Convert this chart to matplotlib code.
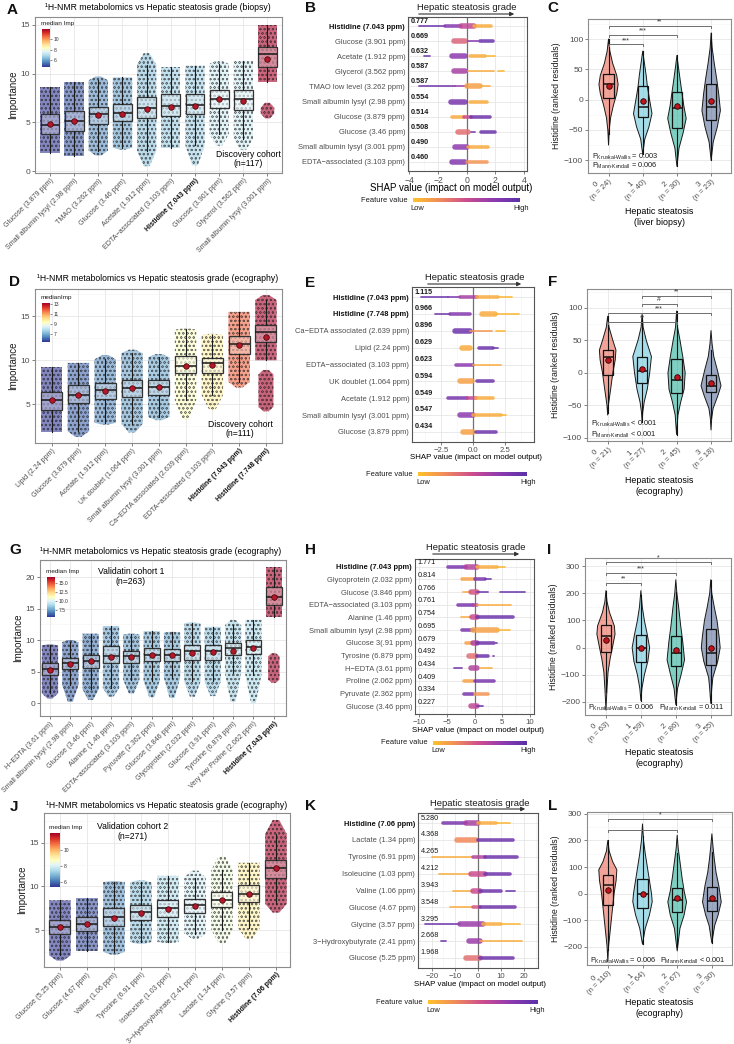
import numpy as np
import matplotlib
matplotlib.use("Agg")
import matplotlib.pyplot as plt
from matplotlib.colors import LinearSegmentedColormap, Normalize, to_rgb
from matplotlib.patches import Polygon, FancyArrowPatch
from matplotlib.transforms import blended_transform_factory
from matplotlib.ticker import MultipleLocator
import matplotlib.cm as cm

plt.rcParams["font.family"] = ["Liberation Sans", "DejaVu Sans"]
plt.rcParams["hatch.linewidth"] = 0.4

W, H = 734, 1044
GREY = "#4D4D4D"
GROUP_COLORS = ["#E64B35", "#4DBBD5", "#00A087", "#3C5488"]
fv_cmap = LinearSegmentedColormap.from_list(
    "fv", ["#FFC22B", "#F08A5D", "#CC4C8F", "#8E3BB1", "#5B31A8"])

# ---------------- A: importance, biopsy (discovery)
a_labels = ["Glucose (3.879 ppm)", "Small albumin lysyl (2.98 ppm)", "TMAO (3.262 ppm)",
            "Glucose (3.46 ppm)", "Acetate (1.912 ppm)", "EDTA\u2212associated (3.103 ppm)",
            "Histidine (7.043 ppm)", "Glucose (3.901 ppm)", "Glycerol (3.562 ppm)",
            "Small albumin lysyl (3.001 ppm)"]
a_q1 = [3.8, 4.1, 4.8, 5.1, 5.4, 5.6, 5.8, 6.5, 6.3, 10.7]
a_med = [4.7, 5.1, 5.8, 6.0, 6.5, 6.7, 6.8, 7.4, 7.4, 12.0]
a_q3 = [5.8, 6.2, 6.6, 6.9, 7.6, 7.9, 7.9, 8.3, 8.3, 12.7]
a_mean = [4.8, 5.1, 5.7, 5.9, 6.4, 6.6, 6.7, 7.4, 7.2, 11.5]
a_lo = [1.8, 1.5, 1.6, 2.2, 0.5, 2.4, 0.6, 2.6, 2.2, 9.1]
a_hi = [8.6, 9.1, 9.7, 9.6, 12.1, 10.7, 10.8, 11.3, 11.3, 15.0]
a_extra = {9: (5.4, 7.0)}

# ---------------- B: SHAP, biopsy
b_labels = ["Histidine (7.043 ppm)", "Glucose (3.901 ppm)", "Acetate (1.912 ppm)",
            "Glycerol (3.562 ppm)", "TMAO low level (3.262 ppm)", "Small albumin lysyl (2.98 ppm)",
            "Glucose (3.879 ppm)", "Glucose (3.46 ppm)", "Small albumin lysyl (3.001 ppm)",
            "EDTA\u2212associated (3.103 ppm)"]
b_imp = [0.777, 0.669, 0.632, 0.587, 0.587, 0.554, 0.514, 0.508, 0.490, 0.460]
# (shap from, shap to, feature value 0..1, density 1..3)
b_swarm = [
    [(-3.3, -1.5, 0.92, 1), (-1.5, -0.4, 0.8, 2), (-0.4, 0.5, 0.55, 3), (0.5, 1.7, 0.1, 2)],
    [(-0.9, -0.1, 0.4, 3), (0.1, 0.8, 0.8, 1), (0.9, 1.8, 0.92, 2)],
    [(-3.0, -2.6, 0.9, 1), (-1.0, -0.1, 0.75, 3), (0.2, 1.3, 0.1, 2), (1.3, 2.0, 0.05, 1)],
    [(-0.9, -0.1, 0.65, 3), (0.1, 1.9, 0.1, 1), (2.2, 2.6, 0.05, 1)],
    [(-3.3, -0.8, 0.9, 1), (-0.8, 0.0, 0.7, 1), (0.0, 0.9, 0.15, 3), (0.9, 1.6, 0.1, 1)],
    [(-1.1, -0.1, 0.85, 3), (0.2, 1.4, 0.1, 2)],
    [(-1.0, -0.2, 0.1, 2), (-0.2, 0.3, 0.5, 2), (0.3, 1.6, 0.9, 2)],
    [(-0.6, 0.1, 0.35, 3), (0.3, 0.6, 0.85, 1), (1.0, 2.0, 0.92, 2)],
    [(-0.8, 0.0, 0.75, 3), (0.1, 1.5, 0.1, 2)],
    [(-1.0, -0.1, 0.8, 3), (0.0, 1.4, 0.2, 2)],
]

# ---------------- C: histidine residuals, biopsy
c_n = [24, 40, 30, 23]
c_q1 = [3, -28, -46, -33]
c_med = [26, -12, -13, -12]
c_q3 = [43, 22, 13, 26]
c_mean = [22, -3, -11, -3]
c_prof_y = [[100, 80, 60, 40, 25, 10, -10, -30, -50, -75],
            [80, 60, 40, 20, 0, -23, -45, -65, -90],
            [73, 55, 30, 10, -10, -31, -55, -80, -110],
            [110, 85, 60, 35, 10, -18, -45, -70, -100]]
c_prof_w = [[0, .04, .12, .24, .28, .24, .14, .06, .02, 0],
            [0, .05, .10, .14, .20, .27, .18, .06, 0],
            [0, .04, .10, .15, .20, .27, .18, .06, 0],
            [0, .03, .09, .16, .22, .27, .18, .06, 0]]
c_sig = [(0, 1, 91, "***"), (0, 2, 106, "***"), (0, 3, 121, "**")]

# ---------------- D: importance, ecography (discovery)
d_labels = ["Lipid (2.24 ppm)", "Glucose (3.879 ppm)", "Acetate (1.912 ppm)",
            "UK doublet (1.064 ppm)", "Small albumin lysyl (3.001 ppm)",
            "Ca\u2212EDTA associated (2.639 ppm)", "EDTA\u2212associated (3.103 ppm)",
            "Histidine (7.043 ppm)", "Histidine (7.748 ppm)"]
d_q1 = [4.4, 5.1, 5.6, 5.8, 6.1, 8.5, 8.6, 10.7, 12.1]
d_med = [5.5, 6.1, 6.6, 6.9, 7.0, 9.3, 9.7, 11.8, 13.2]
d_q3 = [6.4, 7.2, 7.4, 7.8, 7.8, 10.5, 10.3, 12.8, 14.0]
d_mean = [5.5, 6.1, 6.5, 6.8, 7.0, 9.3, 9.5, 11.7, 12.6]
d_lo = [1.9, 1.3, 2.7, 1.8, 3.2, 3.3, 4.4, 6.9, 10.0]
d_hi = [9.2, 9.7, 10.6, 11.2, 10.7, 13.6, 13.0, 15.5, 17.4]
d_extra = {8: (4.2, 8.9)}

# ---------------- E: SHAP, ecography
e_labels = ["Histidine (7.043 ppm)", "Histidine (7.748 ppm)", "Ca\u2212EDTA associated (2.639 ppm)",
            "Lipid (2.24 ppm)", "EDTA\u2212associated (3.103 ppm)", "UK doublet (1.064 ppm)",
            "Acetate (1.912 ppm)", "Small albumin lysyl (3.001 ppm)", "Glucose (3.879 ppm)"]
e_imp = [1.115, 0.966, 0.896, 0.629, 0.623, 0.594, 0.549, 0.547, 0.434]
e_swarm = [
    [(-4.1, -2.0, 0.92, 1), (-2.0, -1.0, 0.85, 1), (-1.0, 0.3, 0.65, 2), (0.3, 2.0, 0.1, 2), (2.0, 3.1, 0.05, 1)],
    [(-3.0, -1.8, 0.9, 1), (-1.8, -0.2, 0.8, 2), (0.7, 1.7, 0.1, 3), (1.7, 3.6, 0.05, 1)],
    [(-1.4, -0.2, 0.9, 3), (-0.2, 1.5, 0.2, 1), (1.8, 2.5, 0.05, 1)],
    [(-0.9, -0.2, 0.1, 3), (0.5, 1.6, 0.9, 2), (1.6, 2.0, 0.9, 1)],
    [(-1.3, 0.0, 0.75, 2), (0.0, 2.2, 0.1, 1)],
    [(-1.0, -0.1, 0.15, 3), (0.3, 1.6, 0.9, 2)],
    [(-2.0, -0.5, 0.85, 2), (-0.5, 0.2, 0.55, 2), (0.2, 1.6, 0.1, 2)],
    [(-1.0, 0.0, 0.75, 3), (0.0, 2.2, 0.1, 2), (2.2, 2.6, 0.05, 1)],
    [(-0.8, 0.0, 0.15, 3), (0.2, 1.8, 0.9, 2)],
]

# ---------------- F: histidine residuals, ecography (discovery)
f_n = [21, 27, 45, 18]
f_q1 = [-4, -16, -31, -30]
f_med = [24, 2, -11, -20]
f_q3 = [35, 24, 21, -4]
f_mean = [19, 6, -6, -15]
f_prof_y = [[87, 70, 50, 35, 20, 0, -20, -35, -50, -65],
            [90, 70, 50, 25, 0, -25, -45, -60, -75],
            [95, 70, 50, 25, 0, -25, -45, -65, -95],
            [65, 45, 25, 5, -20, -35, -55, -70, -88]]
f_prof_w = [[0, .04, .15, .24, .22, .15, .10, .06, .02, 0],
            [0, .03, .12, .27, .22, .15, .06, .02, 0],
            [0, .03, .10, .18, .25, .22, .12, .04, 0],
            [0, .03, .08, .18, .29, .20, .06, .02, 0]]
f_sig = [(1, 3, 118, "**"), (1, 2, 106, "#"), (0, 3, 92, "***"), (0, 2, 78, "**")]

# ---------------- G: importance, validation cohort 1
g_labels = ["H\u2212EDTA (3.61 ppm)", "Small albumin lysyl (2.98 ppm)", "Glucose (3.46 ppm)",
            "Alanine (1.46 ppm)", "EDTA\u2212associated (3.103 ppm)", "Pyruvate (2.362 ppm)",
            "Glucose (3.846 ppm)", "Glycoprotein (2.032 ppm)", "Glucose (3.91 ppm)",
            "Tyrosine (6.879 ppm)", "Very low Proline (2.062 ppm)", "Histidine (7.043 ppm)"]
g_q1 = [4.4, 5.4, 5.5, 6.4, 6.4, 6.7, 6.7, 6.9, 6.9, 7.6, 7.8, 15.6]
g_med = [5.4, 6.3, 6.7, 7.5, 7.4, 7.6, 7.6, 8.2, 8.3, 8.7, 8.9, 16.8]
g_q3 = [6.3, 7.1, 7.7, 9.1, 8.2, 8.8, 8.5, 9.2, 9.2, 9.5, 10.0, 18.4]
g_mean = [5.3, 6.2, 6.6, 7.3, 7.3, 7.6, 7.6, 8.0, 8.1, 8.3, 8.7, 16.9]
g_lo = [0.7, 0.2, 0.5, 1.0, 1.5, 0.9, 0.8, 1.0, 1.1, 0.2, 0.0, 13.7]
g_hi = [9.3, 10.0, 11.0, 12.2, 11.0, 11.4, 11.3, 12.8, 12.1, 13.2, 13.2, 21.6]
g_extra = {11: (3.2, 7.9)}

# ---------------- H: SHAP, validation cohort 1
h_labels = ["Histidine (7.043 ppm)", "Glycoprotein (2.032 ppm)", "Glucose (3.846 ppm)",
            "EDTA\u2212associated (3.103 ppm)", "Alanine (1.46 ppm)", "Small albumin lysyl (2.98 ppm)",
            "Glucose 3(.91 ppm)", "Tyrosine (6.879 ppm)", "H\u2212EDTA (3.61 ppm)",
            "Proline (2.062 ppm)", "Pyruvate (2.362 ppm)", "Glucose (3.46 ppm)"]
h_imp = [1.771, 0.814, 0.766, 0.761, 0.754, 0.695, 0.679, 0.492, 0.434, 0.409, 0.334, 0.227]
h_swarm = [
    [(-4.8, -1.5, 0.85, 2), (-1.5, 0.5, 0.6, 3), (0.5, 4.0, 0.1, 2), (4.0, 5.4, 0.05, 1)],
    [(-2.3, 0.0, 0.15, 2), (0.0, 1.8, 0.85, 2), (1.8, 3.0, 0.9, 1)],
    [(-2.0, -0.5, 0.1, 1), (-0.6, 0.4, 0.45, 3), (0.5, 2.5, 0.9, 1), (4.5, 9.0, 0.92, 1)],
    [(-3.0, -0.3, 0.85, 2), (-0.3, 0.5, 0.6, 2), (0.5, 6.5, 0.1, 1)],
    [(-2.5, -0.5, 0.1, 1), (-0.5, 0.5, 0.5, 3), (0.5, 6.9, 0.9, 2)],
    [(-2.2, -0.3, 0.85, 2), (-0.3, 4.0, 0.15, 3), (4.0, 6.3, 0.05, 1)],
    [(-1.5, -0.3, 0.15, 2), (-0.3, 0.5, 0.6, 3), (0.5, 3.5, 0.9, 2), (3.9, 4.1, 0.92, 1)],
    [(-1.0, 0.3, 0.35, 3), (0.5, 2.5, 0.9, 2), (3.3, 3.5, 0.92, 1)],
    [(-3.6, -2.3, 0.9, 1), (-0.7, 0.5, 0.6, 3), (1.0, 3.2, 0.1, 1)],
    [(-1.8, -0.3, 0.15, 2), (0.0, 3.5, 0.85, 2)],
    [(-1.8, -0.3, 0.85, 2), (0.0, 2.5, 0.2, 2)],
    [(-0.6, 0.5, 0.55, 3), (0.5, 1.5, 0.9, 1)],
]

# ---------------- I: histidine residuals, validation cohort 1
i_n = [63, 59, 86, 55]
i_q1 = [-16, -53, -67, -63]
i_med = [42, -1, -20, -20]
i_q3 = [83, 46, 42, 70]
i_mean = [27, -3, -10, -3]
i_prof_y = [[210, 170, 130, 80, 50, 10, -40, -90, -150, -230],
            [210, 150, 100, 50, 0, -50, -100, -150, -195],
            [250, 200, 150, 80, 20, -45, -100, -150, -210],
            [250, 200, 150, 100, 40, 0, -50, -110, -150, -205]]
i_prof_w = [[0, .03, .10, .24, .26, .20, .12, .06, .03, 0],
            [0, .04, .10, .18, .25, .20, .10, .03, 0],
            [0, .03, .08, .14, .20, .25, .15, .05, 0],
            [0, .03, .10, .18, .24, .27, .20, .06, .03, 0]]
i_sig = [(0, 3, 314, "*"), (0, 2, 274, "***"), (0, 1, 237, "**")]

# ---------------- J: importance, validation cohort 2
j_labels = ["Glucose (5.25 ppm)", "Glucose (4.67 ppm)", "Valine (1.06 ppm)", "Tyrosine (6.91 ppm)",
            "Isoleucine (1.03 ppm)", "3\u2212Hydroxybutyrate (2.41 ppm)", "Lactate (1.34 ppm)",
            "Glycine (3.57 ppm)", "Histidine (7.06 ppm)"]
j_q1 = [4.5, 4.9, 5.5, 6.2, 6.5, 7.0, 7.6, 8.2, 11.0]
j_med = [5.4, 5.7, 6.5, 7.1, 7.5, 7.9, 8.4, 9.1, 12.1]
j_q3 = [6.1, 6.5, 7.5, 7.9, 8.4, 8.6, 9.3, 10.2, 13.0]
j_mean = [5.3, 5.7, 6.4, 7.0, 7.4, 7.8, 8.4, 9.1, 12.1]
j_lo = [1.5, 2.6, 2.2, 3.4, 3.5, 4.0, 3.5, 4.0, 7.0]
j_hi = [8.4, 8.7, 10.6, 10.7, 11.2, 11.8, 13.4, 12.7, 17.6]
j_extra = {}

# ---------------- K: SHAP, validation cohort 2
k_labels = ["Histidine (7.06 ppm)", "Lactate (1.34 ppm)", "Tyrosine (6.91 ppm)",
            "Isoleucine (1.03 ppm)", "Valine (1.06 ppm)", "Glucose (4.67 ppm)",
            "Glycine (3.57 ppm)", "3\u2212Hydroxybutyrate (2.41 ppm)", "Glucose (5.25 ppm)"]
k_imp = [5.280, 4.368, 4.265, 4.212, 3.943, 3.548, 3.295, 2.668, 1.968]
k_swarm = [
    [(-15, -5, 0.85, 2), (-5, 0, 0.65, 3), (0, 8, 0.1, 2), (8, 14, 0.05, 1)],
    [(-9, -1, 0.25, 3), (0, 15, 0.9, 2)],
    [(-20, -2, 0.1, 1), (-2, 3, 0.6, 2), (3, 17, 0.9, 2)],
    [(-17, -3, 0.1, 1), (-3, 3, 0.5, 3), (3, 14, 0.9, 2)],
    [(-11, -2, 0.1, 1), (-2, 1, 0.5, 3), (1, 10, 0.9, 2), (12, 16, 0.92, 1)],
    [(-12, -2, 0.1, 1), (-2, 1, 0.45, 2), (1, 16, 0.9, 2)],
    [(-23, -8, 0.9, 1), (-8, 2, 0.7, 3), (2, 10, 0.1, 2), (10, 18, 0.05, 1)],
    [(-16, -14, 0.9, 1), (-4, 1, 0.7, 3), (1, 19, 0.1, 1)],
    [(-5, 1, 0.35, 3), (1, 15, 0.9, 2)],
]

# ---------------- L: histidine residuals, validation cohort 2
l_n = [110, 64, 67, 30]
l_q1 = [-44, -54, -67, -64]
l_med = [34, -1, -25, -29]
l_q3 = [69, 55, 21, 24]
l_mean = [15, 0, -16, -16]
l_prof_y = [[200, 160, 120, 90, 50, 0, -50, -100, -150, -200, -255],
            [262, 200, 150, 100, 50, 0, -30, -80, -130, -190],
            [220, 170, 120, 60, 10, -31, -80, -130, -215],
            [225, 180, 130, 80, 30, -31, -80, -120, -185]]
l_prof_w = [[0, .04, .14, .26, .24, .18, .14, .10, .06, .02, 0],
            [0, .03, .08, .14, .20, .26, .28, .20, .08, 0],
            [0, .03, .08, .14, .20, .27, .20, .08, 0],
            [0, .03, .07, .12, .20, .27, .18, .08, 0]]
l_sig = [(0, 3, 281, "*"), (0, 2, 240, "")]

fig = plt.figure(figsize=(W / 100, H / 100), dpi=100)


def add_ax(l, t, r, b):
    return fig.add_axes([l / W, 1 - b / H, (r - l) / W, (b - t) / H])


def ftext(x, y, s, **kw):
    return fig.text(x / W, 1 - y / H, s, **kw)


def style(ax):
    for s in ax.spines.values():
        s.set_color("#8C8C8C")
        s.set_linewidth(0.8)
    ax.grid(True, which="major", color="#E6E6E6", lw=0.6)
    ax.grid(True, which="minor", color="#F3F3F3", lw=0.4)
    ax.set_axisbelow(True)
    ax.tick_params(which="both", length=2, width=0.5, colors=GREY, labelsize=6, pad=1.5)
    ax.tick_params(which="minor", length=0)


def imp_panel(ax, labels, q1, med, q3, mean, lo, hi, extra, xlim, ylim, yticks):
    cmap = plt.get_cmap("RdYlBu_r")
    norm = Normalize(min(med), max(med))
    x = np.arange(len(labels))
    w = 0.4
    stats = []
    for i in x:
        c = cmap(norm(med[i]))
        iqr = q3[i] - q1[i]
        wlo = max(lo[i], q1[i] - 1.5 * iqr)
        whi = min(hi[i], q3[i] + 1.5 * iqr)
        clouds = [[(i - 0.12, lo[i]), (i - w, wlo), (i - w, whi), (i - 0.12, hi[i]),
                   (i + 0.12, hi[i]), (i + w, whi), (i + w, wlo), (i + 0.12, lo[i])]]
        if i in extra:
            a, b = extra[i]
            clouds.append([(i - 0.1, a), (i - w * 0.7, a + 0.5), (i - w * 0.7, b - 0.5), (i - 0.1, b),
                           (i + 0.1, b), (i + w * 0.7, b - 0.5), (i + w * 0.7, a + 0.5), (i + 0.1, a)])
        for v in clouds:
            ax.add_patch(Polygon(v, closed=True, facecolor=c, alpha=0.6, lw=0, zorder=2))
            ax.add_patch(Polygon(v, closed=True, fill=False, hatch="oooo",
                                 edgecolor=(0.12, 0.12, 0.12, 0.6), lw=0, zorder=2))
        stats.append(dict(med=med[i], q1=q1[i], q3=q3[i], whislo=wlo, whishi=whi, fliers=[]))
    bp = ax.bxp(stats, positions=x, widths=0.78, patch_artist=True, showfliers=False,
                showcaps=False, boxprops=dict(edgecolor="#333333", lw=0.9),
                medianprops=dict(color="#1A1A1A", lw=1.1),
                whiskerprops=dict(color="#1A1A1A", lw=0.8), zorder=3)
    for i, b in enumerate(bp["boxes"]):
        rgb = np.array(to_rgb(cmap(norm(med[i]))))
        b.set_facecolor((*(rgb * 0.35 + 0.65), 0.6))
    ax.scatter(x, mean, s=16, color="#B2182B", edgecolors="#400000", linewidths=0.5, zorder=5)
    ax.set_xlim(xlim)
    ax.set_ylim(ylim)
    ax.set_yticks(yticks)
    ax.yaxis.set_minor_locator(MultipleLocator(2.5))
    style(ax)
    ax.tick_params(axis="x", pad=1)
    ax.set_xticks(x)
    ax.set_xticklabels(labels, rotation=45, ha="right", rotation_mode="anchor", fontsize=5.1)
    for t in ax.get_xticklabels():
        if "Histidine" in t.get_text():
            t.set_fontweight("bold")
            t.set_color("#111111")
    ax.set_ylabel("Importance", fontsize=7, color="#1A1A1A", labelpad=2)
    return norm, cmap


def med_legend(norm, cmap, box, title, ticks, fmt):
    cax = add_ax(*box)
    cb = fig.colorbar(cm.ScalarMappable(norm=norm, cmap=cmap), cax=cax, ticks=ticks)
    cb.outline.set_visible(False)
    cb.set_ticklabels([fmt.format(t) for t in ticks])
    cax.tick_params(labelsize=3.6, length=1.5, width=0.4, pad=1, colors="#333333")
    ftext(box[0] - 1, box[1] - 6, title, fontsize=4.6, color="#1A1A1A", ha="left", va="center")


def shap_panel(ax, labels, imp, swarm, xlim, xticks, xticklabels, bold_vals, tick_fs):
    n = len(labels)
    ax.set_xlim(xlim)
    ax.set_ylim(-0.6, n - 0.4)
    ax.axvline(0, color="#707070", lw=0.9, zorder=1)
    lws = {1: 1.3, 2: 2.6, 3: 4.0}
    trans = blended_transform_factory(ax.transAxes, ax.transData)
    for i, segs in enumerate(swarm):
        y = n - 1 - i
        for lo, hi, v, d in segs:
            ax.plot([lo, hi], [y, y], color=fv_cmap(v), lw=lws[d], solid_capstyle="round",
                    alpha=0.85, zorder=3)
        ax.text(0.02, y + 0.3, f"{imp[i]:.3f}", transform=trans, fontsize=5.2,
                fontweight="bold" if bold_vals else "normal", color="#1A1A1A",
                ha="left", va="center", zorder=4)
    ax.set_yticks(np.arange(n)[::-1])
    ax.set_yticklabels(labels)
    ax.set_xticks(xticks)
    ax.set_xticklabels(xticklabels)
    ax.xaxis.set_minor_locator(MultipleLocator((xticks[1] - xticks[0]) / 2))
    style(ax)
    ax.tick_params(axis="y", length=0, labelsize=5.4, pad=2)
    ax.tick_params(axis="x", labelsize=tick_fs)
    for t in ax.get_yticklabels():
        if "Histidine" in t.get_text():
            t.set_fontweight("bold")
            t.set_color("#111111")
    for s in ax.spines.values():
        s.set_color("#555555")


def violin_panel(ax, n, q1, med, q3, mean, prof_y, prof_w, sig, ylim, yticks, minor, ptexts):
    stats = []
    for i in range(4):
        py = np.array(prof_y[i], float)
        pw = np.array(prof_w[i], float)
        verts = np.concatenate([np.column_stack([i - pw, py]), np.column_stack([i + pw, py])[::-1]])
        ax.add_patch(Polygon(verts, closed=True, facecolor=(*to_rgb(GROUP_COLORS[i]), 0.5),
                             edgecolor="#1A1A1A", lw=0.7, joinstyle="round", zorder=2))
        iqr = q3[i] - q1[i]
        stats.append(dict(med=med[i], q1=q1[i], q3=q3[i],
                          whislo=max(py.min(), q1[i] - 1.5 * iqr),
                          whishi=min(py.max(), q3[i] + 1.5 * iqr), fliers=[]))
    ax.bxp(stats, positions=range(4), widths=0.3, patch_artist=True, showfliers=False,
           showcaps=False, boxprops=dict(facecolor="none", edgecolor="#111111", lw=0.9),
           medianprops=dict(color="#111111", lw=1.1),
           whiskerprops=dict(color="#111111", lw=0.8), zorder=3)
    ax.scatter(range(4), mean, s=16, color="#C0141E", edgecolors="#300000", linewidths=0.6, zorder=5)
    h = (ylim[1] - ylim[0]) * 0.012
    for a, b, y, lab in sig:
        ax.plot([a, a, b, b], [y - h, y, y, y - h], color="#6E6E6E", lw=0.7, zorder=4)
        ax.text((a + b) / 2, y + h * 0.3, lab, ha="center", va="bottom", fontsize=5, color="#333333")
    ax.set_xlim(-0.6, 3.58)
    ax.set_ylim(ylim)
    ax.set_yticks(yticks)
    ax.yaxis.set_minor_locator(MultipleLocator(minor))
    style(ax)
    ax.set_xticks(range(4))
    ax.set_xticklabels([f"{i}\n(n = {n[i]})" for i in range(4)], rotation=45, ha="right",
                       va="center", rotation_mode="anchor", multialignment="center",
                       fontsize=5.6, linespacing=1.0)
    ax.set_ylabel("Histidine (ranked residuals)", fontsize=6.3, color="#1A1A1A", labelpad=2)
    for x, y, s in ptexts:
        ax.text(x, y, s, transform=ax.transAxes, fontsize=5.3, color="#1A1A1A", ha="left", va="center")


def fv_bar(x0, x1, y, low_x, high_r):
    cax = add_ax(x0, y - 2, x1, y + 2)
    cax.imshow(np.linspace(0, 1, 256)[None, :], aspect="auto", cmap=fv_cmap)
    cax.axis("off")
    ftext(x0 - 5, y, "Feature value", fontsize=5.4, color="#1A1A1A", ha="right", va="center")
    ftext(low_x, y + 8, "Low", fontsize=5.4, color="#1A1A1A", ha="left", va="center")
    ftext(high_r, y + 8, "High", fontsize=5.4, color="#1A1A1A", ha="right", va="center")


def grade_arrow(x0, x1, y_line, y_text):
    ftext((x0 + x1) / 2, y_text, "Hepatic steatosis grade", fontsize=6.8, color="#1A1A1A",
          ha="center", va="center")
    fig.add_artist(FancyArrowPatch((x0 / W, 1 - y_line / H), (x1 / W, 1 - y_line / H),
                                   transform=fig.transFigure, arrowstyle="-|>",
                                   mutation_scale=6, lw=0.8, color="#333333"))


def letter(x, y, s):
    ftext(x, y, s, fontsize=11, fontweight="bold", color="#111111", ha="center", va="center")


TITLE = "\u00b9H-NMR metabolomics vs Hepatic steatosis grade ({})"
PK = "$\\mathregular{P_{Kruskal\u2010Wallis}}$"
PM = "$\\mathregular{P_{Mann\u2010Kendall}}$"

# ---- row 1
ax = add_ax(35, 17, 282, 173)
norm, cmap = imp_panel(ax, a_labels, a_q1, a_med, a_q3, a_mean, a_lo, a_hi, a_extra,
                       (-0.62, 9.6), (-0.2, 15.8), [0, 5, 10, 15])
med_legend(norm, cmap, (42, 29, 50, 67), "median Imp", [6, 8, 10], "{:g}")
ax.text(0.865, 0.03, "Discovery cohort\n(n=117)", transform=ax.transAxes, fontsize=6.2,
        ha="center", va="bottom", linespacing=1.1)
ftext(158, 7, TITLE.format("biopsy"), fontsize=6.2, ha="center", va="center")
letter(12, 10, "A")

ax = add_ax(408, 17, 527, 171)
shap_panel(ax, b_labels, b_imp, b_swarm, (-4.1, 4.2), [-4, -2, 0, 2, 4],
           ["\u22124", "\u22122", "0", "2", "4"], True, 6.2)
ftext(451, 188, "SHAP value (impact on model output)", fontsize=7.0, ha="center", va="center")
grade_arrow(416, 517, 14, 7)
fv_bar(413, 520, 200, 410, 529)
letter(310, 8, "B")

ax = add_ax(588, 19, 731, 173)
violin_panel(ax, c_n, c_q1, c_med, c_q3, c_mean, c_prof_y, c_prof_w, c_sig, (-121, 133),
             [-100, -50, 0, 50, 100], 25,
             [(0.03, 0.105, PK + " = 0.003"), (0.03, 0.045, PM + " = 0.006")])
ftext(659, 217, "Hepatic steatosis\n(liver biopsy)", fontsize=6.4, ha="center", va="center",
      linespacing=1.15)
letter(553, 8, "C")

# ---- row 2
ax = add_ax(35, 289, 282, 443)
norm, cmap = imp_panel(ax, d_labels, d_q1, d_med, d_q3, d_mean, d_lo, d_hi, d_extra,
                       (-0.62, 8.6), (0.6, 18.1), [5, 10, 15])
med_legend(norm, cmap, (42, 303, 50, 342), "medianImp", [7, 9, 11, 13], "{:g}")
ax.text(0.83, 0.03, "Discovery cohort\n(n=111)", transform=ax.transAxes, fontsize=6.2,
        ha="center", va="bottom", linespacing=1.1)
ftext(158, 279, TITLE.format("ecography"), fontsize=6.2, ha="center", va="center")
letter(15, 282, "D")

ax = add_ax(412, 287, 534, 442)
shap_panel(ax, e_labels, e_imp, e_swarm, (-4.8, 4.8), [-2.5, 0, 2.5],
           ["\u22122.5", "0.0", "2.5"], True, 5.6)
ftext(476, 458, "SHAP value (impact on model output)", fontsize=5.7, ha="center", va="center")
grade_arrow(425, 524, 284, 277)
fv_bar(418, 527, 474, 416, 536)
letter(310, 283, "E")

ax = add_ax(587, 289, 731, 441)
violin_panel(ax, f_n, f_q1, f_med, f_q3, f_mean, f_prof_y, f_prof_w, f_sig, (-105, 129),
             [-100, -50, 0, 50, 100], 25,
             [(0.03, 0.11, PK + " < 0.001"), (0.03, 0.04, PM + " < 0.001")])
ftext(659, 486, "Hepatic steatosis\n(ecography)", fontsize=6.4, ha="center", va="center",
      linespacing=1.15)
letter(553, 282, "F")

# ---- row 3
ax = add_ax(40, 560, 286, 716)
norm, cmap = imp_panel(ax, g_labels, g_q1, g_med, g_q3, g_mean, g_lo, g_hi, g_extra,
                       (-0.49, 11.6), (-2.06, 22.7), [0, 5, 10, 15, 20])
med_legend(norm, cmap, (47, 577, 55, 617), "median Imp", [7.5, 10.0, 12.5, 15.0], "{:.1f}")
ax.text(0.37, 0.955, "Validatin cohort 1\n(n=263)", transform=ax.transAxes, fontsize=6.2,
        ha="center", va="top", linespacing=1.1)
ftext(161, 552, TITLE.format("ecography"), fontsize=6.2, ha="center", va="center")
letter(15, 550, "G")

ax = add_ax(415, 559, 534, 714)
shap_panel(ax, h_labels, h_imp, h_swarm, (-10.7, 10.7), [-10, -5, 0, 5, 10],
           ["\u221210", "\u22125", "0", "5", "10"], False, 5.6)
ftext(478, 731, "SHAP value (impact on model output)", fontsize=5.7, ha="center", va="center")
grade_arrow(430, 522, 554, 547)
fv_bar(433, 527, 743, 431, 536)
letter(310, 550, "H")

ax = add_ax(585, 558, 731, 715)
violin_panel(ax, i_n, i_q1, i_med, i_q3, i_mean, i_prof_y, i_prof_w, i_sig, (-248, 330),
             [-200, -100, 0, 100, 200, 300], 50,
             [(0.02, 0.045, PK + " = 0.006"), (0.51, 0.045, PM + " = 0.011")])
ftext(659, 758, "Hepatic steatosis\n(ecography)", fontsize=6.4, ha="center", va="center",
      linespacing=1.15)
letter(549, 550, "I")

# ---- row 4
ax = add_ax(44, 813, 290, 967)
norm, cmap = imp_panel(ax, j_labels, j_q1, j_med, j_q3, j_mean, j_lo, j_hi, j_extra,
                       (-0.59, 8.52), (0.77, 18.4), [5, 10, 15])
med_legend(norm, cmap, (50, 833, 60, 887), "median Imp", [6, 8, 10], "{:g}")
ax.text(0.36, 0.94, "Validation cohort 2\n(n=271)", transform=ax.transAxes, fontsize=6.2,
        ha="center", va="top", linespacing=1.1)
ftext(167, 806, TITLE.format("ecography"), fontsize=6.2, ha="center", va="center")
letter(14, 807, "J")

ax = add_ax(418, 813, 538, 968)
shap_panel(ax, k_labels, k_imp, k_swarm, (-26, 26), [-20, -10, 0, 10, 20],
           ["\u221220", "\u221210", "0", "10", "20"], False, 5.6)
ftext(480, 984, "SHAP value (impact on model output)", fontsize=5.7, ha="center", va="center")
grade_arrow(432, 528, 809, 803)
fv_bar(428, 537, 1002, 426, 545)
letter(310, 806, "K")

ax = add_ax(587, 812, 732, 965)
violin_panel(ax, l_n, l_q1, l_med, l_q3, l_mean, l_prof_y, l_prof_w, l_sig, (-268, 307),
             [-200, -100, 0, 100, 200, 300], 50,
             [(0.02, 0.03, PK + " = 0.006"), (0.5, 0.03, PM + " < 0.001")])
ftext(659, 1008, "Hepatic steatosis\n(ecography)", fontsize=6.4, ha="center", va="center",
      linespacing=1.15)
letter(553, 806, "L")

fig.savefig("out.png", dpi=100)
